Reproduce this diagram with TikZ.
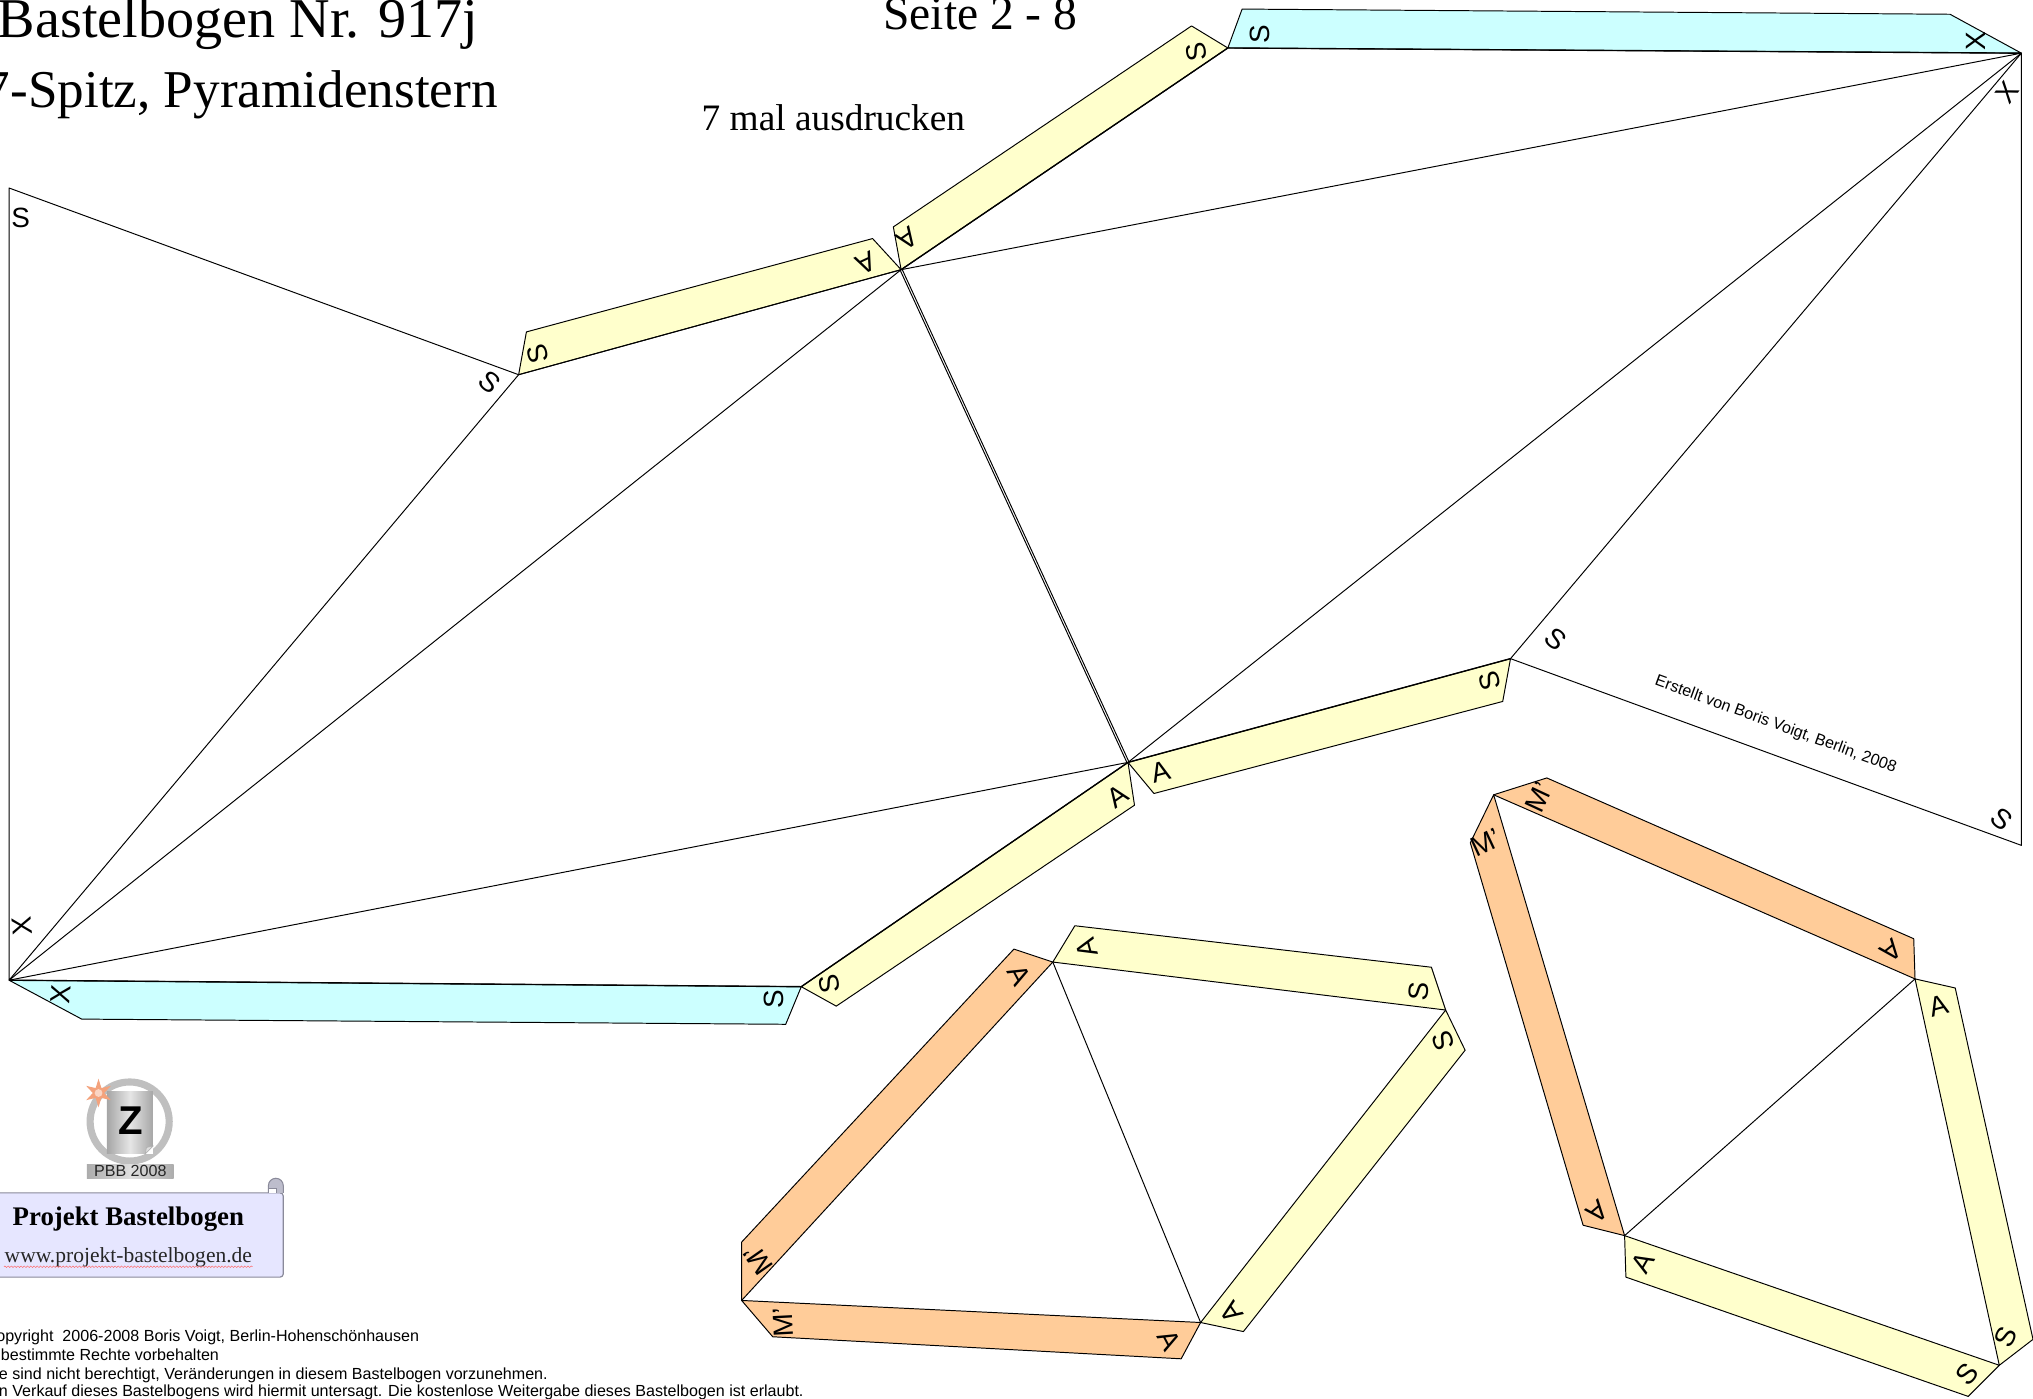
\documentclass[tikz,border=0pt]{standalone}
\usepackage{fontspec}
\setmainfont{Liberation Serif}
\setsansfont{Liberation Sans}
\usetikzlibrary{decorations.pathmorphing}
\definecolor{tabyellow}{HTML}{FFFFCC}
\definecolor{tabcyan}{HTML}{CCFFFF}
\definecolor{taborange}{HTML}{FFCC99}
\definecolor{scrollfill}{HTML}{E6E6FF}
\definecolor{scrolledge}{HTML}{8A8A9A}
\definecolor{starcol}{HTML}{F4A27C}
\newcommand{\Mprime}{M\char"0027\relax}
\tikzset{
  fold/.style={draw=black,line width=0.75pt,line join=round},
  cut/.style={draw=black,line width=1.05pt},
  ytab/.style={fold,fill=tabyellow},
  ctab/.style={fold,fill=tabcyan},
  otab/.style={fold,fill=taborange},
  lab/.style={font=\sffamily\fontsize{21.5}{21.5}\selectfont,inner sep=0pt},
  serifhead/.style={inner sep=0pt},
  small/.style={font=\sffamily\fontsize{12.4}{12.4}\selectfont,inner sep=0pt,anchor=base west}
}
\begin{document}
\begin{tikzpicture}[x=1pt,y=-1pt]
\useasboundingbox[fill=white] (0,0) rectangle (1568,1078.25);
% main net corners
\coordinate (TL) at (7,145);
\coordinate (BL) at (7,756);
\coordinate (Q) at (400,289);
\coordinate (C1) at (695,208);
\coordinate (C2) at (870,588);
\coordinate (TR) at (1559,41);
\coordinate (R) at (1165,508);
\coordinate (BR) at (1559,652);
\coordinate (T1) at (947,37);
\coordinate (T2) at (618,761);
% tabs of main net
\draw[ytab] (Q) -- (406,256) -- (673,184) -- (C1) -- cycle;
\draw[ytab] (C1) -- (689,175) -- (919,20) -- (T1) -- cycle;
\draw[ctab] (T1) -- (958,7) -- (1504,11) -- (TR) -- cycle;
\draw[ytab] (C2) -- (890,612) -- (1159,541) -- (R) -- cycle;
\draw[ytab] (C2) -- (875,621) -- (645,776) -- (T2) -- cycle;
\draw[ctab] (BL) -- (63,786) -- (606,790) -- (T2) -- cycle;
% folds of main net
\draw[fold] (TL) -- (Q) -- (BL) -- cycle;
\draw[fold] (BL) -- (C1);
\draw[fold] (BL) -- (C2);
\draw[fold] (C1) -- (TR);
\draw[fold] (C2) -- (TR);
\draw[fold] (R) -- (TR) -- (BR) -- cycle;
\draw[fold] ([xshift=-0.9pt]C1) -- ([xshift=-0.9pt]C2);
\draw[fold] ([xshift=0.9pt]C1) -- ([xshift=0.9pt]C2);
\draw[cut] (C1) -- (T1) -- (TR);
\draw[cut] (BL) -- (T2) -- (C2) -- (R);
\draw[fold] (Q) -- (C1);
% lower centre piece
\coordinate (a1) at (812,742);
\coordinate (a2) at (1115,779);
\coordinate (a3) at (926,1020);
\coordinate (a4) at (572,1003);
\draw[otab] (a1) -- (782,732) -- (572,958) -- (a4) -- cycle;
\draw[ytab] (a1) -- (829,714) -- (1104,746) -- (a2) -- cycle;
\draw[ytab] (a2) -- (1130,810) -- (959,1027) -- (a3) -- cycle;
\draw[otab] (a4) -- (596,1031) -- (911,1048) -- (a3) -- cycle;
\draw[fold] (a1) -- (a3);
% right piece
\coordinate (b1) at (1152,613);
\coordinate (b2) at (1477,755);
\coordinate (b3) at (1542,1053);
\coordinate (b4) at (1253,953);
\draw[otab] (b1) -- (1193,600) -- (1476,724) -- (b2) -- cycle;
\draw[otab] (b1) -- (1134,650) -- (1221,945) -- (b4) -- cycle;
\draw[ytab] (b2) -- (1508,762) -- (1568,1033) -- (b3) -- cycle;
\draw[ytab] (b4) -- (1254,985) -- (1518,1077) -- (b3) -- cycle;
\draw[fold] (b2) -- (b4);
% titles
\node[serifhead,anchor=base east,font=\fontsize{43.3}{43.3}\selectfont] (title1) at (369,29) {Bastelbogen Nr. 917j};
\node[serifhead,anchor=base east,font=\fontsize{41}{41}\selectfont] (title2) at (384,83) {7-Spitz, Pyramidenstern};
\node[serifhead,anchor=base west,font=\fontsize{36.7}{36.7}\selectfont] (title3) at (681,23) {Seite 2 - 8};
\node[serifhead,anchor=base west,font=\fontsize{28.8}{28.8}\selectfont] (title4) at (541,101) {7 mal ausdrucken};
\node[font=\sffamily\fontsize{12.4}{12.4}\selectfont,inner sep=0pt,rotate=-20] (credit) at (1369.5,559) {Erstellt von Boris Voigt, Berlin, 2008};
% net labels
\node[lab] (n1) at (16,168) {S};
\node[lab,rotate=-40] (n2) at (378,295) {S};
\node[lab,rotate=105] (n3) at (415,273) {S};
\node[lab,rotate=205] (n4) at (668,203) {A};
\node[lab,rotate=215] (n5) at (700,184) {A};
\node[lab,rotate=100] (n6) at (923,40) {S};
\node[lab,rotate=90] (n7) at (972,26) {S};
\node[lab,rotate=90] (n8) at (1524,32) {X};
\node[lab,rotate=54] (n9) at (1548,71) {X};
\node[lab,rotate=-40] (n10) at (1200,493) {S};
\node[lab,rotate=105] (n11) at (1149,525) {S};
\node[lab,rotate=15] (n12) at (895,595) {A};
\node[lab,rotate=35] (n13) at (862,614) {A};
\node[lab,rotate=100] (n14) at (640,759) {S};
\node[lab,rotate=90] (n15) at (597,771) {S};
\node[lab,rotate=-40] (n16) at (1544,632) {S};
\node[lab,rotate=95] (n17) at (17,714) {X};
\node[lab,rotate=85] (n18) at (47,767) {X};
% lower centre labels
\node[lab,rotate=-62] (m1) at (786,752) {A};
\node[lab,rotate=105] (m2) at (838,731) {A};
\node[lab,rotate=85] (m3) at (1094,765) {S};
\node[lab,rotate=110] (m4) at (1113,803) {S};
\node[lab,rotate=125] (m5) at (950,1012) {A};
\node[lab,rotate=-62] (m6) at (902,1034) {A};
\node[lab,rotate=93] (m7) at (604,1020) {\Mprime};
\node[lab,rotate=125] (m8) at (585,972) {\Mprime};
% right piece labels
\node[lab,rotate=65] (r1) at (1187,615) {\Mprime};
\node[lab,rotate=25] (r2) at (1146,650) {\Mprime};
\node[lab,rotate=219] (r3) at (1459,733) {A};
\node[lab,rotate=15] (r4) at (1495,776) {A};
\node[lab,rotate=220] (r5) at (1232,935) {A};
\node[lab,rotate=60] (r6) at (1267,974) {A};
\node[lab,rotate=65] (r7) at (1547,1031) {S};
\node[lab,rotate=50] (r8) at (1517,1060) {S};
% logo
\draw[line width=5.5pt,draw=gray!50] (100,865) circle (30.5pt);
\path[left color=gray!70,right color=gray!70,middle color=gray!20] (82.5,842) rectangle (118,890);
\fill[white] (118,890) -- (118,884) -- (112,890) -- cycle;
\draw[gray!60,line width=0.5pt,fill=gray!25] (118,884) -- (113,885) -- (112,890) -- cycle;
\node[inner sep=0pt,font=\sffamily\bfseries\fontsize{31}{31}\selectfont] (logoz) at (101,864) {Z};
\fill[starcol]
  (76,832) -- (78.2,839.2) -- (85.5,837.5) -- (80.4,843) -- (85.5,848.5) -- (78.2,846.8) -- (76,854) -- (73.8,846.8) -- (66.5,848.5) -- (71.6,843) -- (66.5,837.5) -- (73.8,839.2) -- cycle;
\fill[starcol!45!white] (76,843) circle (3pt);
\path[left color=gray!65,right color=gray!65,middle color=gray!25] (67,898) rectangle (134,909);
\node[inner sep=0pt,font=\sffamily\fontsize{12.4}{12.4}\selectfont,text=black!85] (logopbb) at (100.5,903.5) {PBB 2008};
% scroll
\draw[fill=scrollfill,draw=scrolledge,line width=0.9pt,rounded corners=2.5pt] (-8,920) -- (218.5,920) -- (218.5,985) -- (-8,985) -- cycle;
\draw[fill=gray!40!scrollfill,draw=scrolledge,line width=0.8pt] (207,920) -- (207,914.5) arc[start angle=180,end angle=0,radius=5.75pt] -- (218.5,920);
\draw[fill=white,draw=scrolledge,line width=0.4pt] (207,920) -- (207,916.5) -- (213,916.5) -- (213,920);
\node[inner sep=0pt,anchor=base,font=\bfseries\fontsize{20.7}{20.7}\selectfont] (scroll1) at (99,945) {Projekt Bastelbogen};
\node[inner sep=0pt,anchor=base,font=\fontsize{16.6}{16.6}\selectfont,text=black!85] (scroll2) at (99,974) {www.projekt-bastelbogen.de};
\draw[red!60,line width=0.35pt,decorate,decoration={snake,amplitude=0.6pt,segment length=2.5pt}] (3,977) -- (195,977);
% copyright
\node[small] (c1) at (-3,1035) {opyright\ \ 2006-2008 Boris Voigt, Berlin-Hohenschönhausen};
\node[small] (c2) at (0.5,1049) {bestimmte Rechte vorbehalten};
\node[small] (c3) at (-1,1064) {e sind nicht berechtigt, Veränderungen in diesem Bastelbogen vorzunehmen.};
\node[small] (c4) at (-1,1077) {n Verkauf dieses Bastelbogens wird hiermit untersagt. Die kostenlose Weitergabe dieses Bastelbogen ist erlaubt.};
\end{tikzpicture}
\end{document}
